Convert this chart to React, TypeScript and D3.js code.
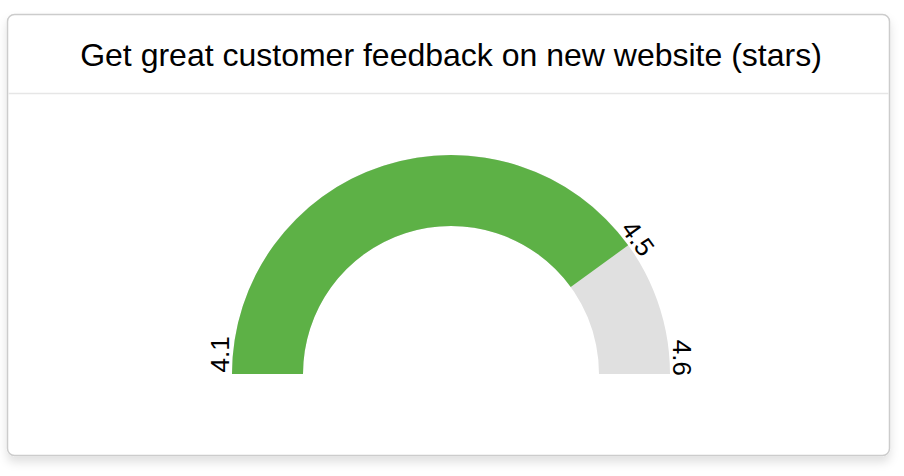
import React, { useEffect, useRef } from "react";
import * as d3 from "d3";

const chartTitle = "Get great customer feedback on new website (stars)";
const gaugeRange = [4.1, 4.6];
const currentValue = [4.5];
const tickLabels = ["4.1", "4.5", "4.6"];

const App: React.FC = () => {
  const svgRef = useRef<SVGSVGElement>(null);

  useEffect(() => {
    if (!svgRef.current) return;
    const svg = d3.select(svgRef.current);
    svg.selectAll("*").remove();

    const W = 904;
    const card = { x: 7.5, y: 14.5, w: 882, h: 441, r: 7 };

    // drop shadow for the card
    const defs = svg.append("defs");
    const filter = defs
      .append("filter")
      .attr("id", "shadow")
      .attr("x", "-10%")
      .attr("y", "-10%")
      .attr("width", "120%")
      .attr("height", "130%");
    filter
      .append("feDropShadow")
      .attr("dx", 0)
      .attr("dy", 6)
      .attr("stdDeviation", 5)
      .attr("flood-color", "#000")
      .attr("flood-opacity", 0.12);

    svg
      .append("rect")
      .attr("x", card.x)
      .attr("y", card.y)
      .attr("width", card.w)
      .attr("height", card.h)
      .attr("rx", card.r)
      .attr("fill", "#fff")
      .attr("stroke", "#cccccc")
      .attr("stroke-width", 1.5)
      .attr("filter", "url(#shadow)");

    // title + separator
    svg
      .append("text")
      .attr("x", W / 2 - 1)
      .attr("y", 66)
      .attr("text-anchor", "middle")
      .style("font-family", "Liberation Sans, Arial, sans-serif")
      .style("font-size", "32px")
      .attr("fill", "#000")
      .text(chartTitle);

    svg
      .append("line")
      .attr("x1", card.x + 1)
      .attr("x2", card.x + card.w - 1)
      .attr("y1", 93.5)
      .attr("y2", 93.5)
      .attr("stroke", "#e6e6e6")
      .attr("stroke-width", 1.5);

    // gauge
    const cx = 451;
    const cy = 374;
    const outer = 219;
    const inner = 148;

    const angle = d3
      .scaleLinear()
      .domain(gaugeRange)
      .range([-Math.PI / 2, Math.PI / 2]);

    const arc = d3
      .arc<{ a0: number; a1: number }>()
      .innerRadius(inner)
      .outerRadius(outer)
      .startAngle((d) => d.a0)
      .endAngle((d) => d.a1);

    const g = svg.append("g").attr("transform", `translate(${cx},${cy})`);

    g.append("path")
      .attr("d", arc({ a0: angle(gaugeRange[0]), a1: angle(gaugeRange[1]) }))
      .attr("fill", "#e0e0e0");

    g.append("path")
      .attr("d", arc({ a0: angle(gaugeRange[0]), a1: angle(currentValue[0]) }))
      .attr("fill", "#5db146");

    // labels along the outer edge
    const labelValues = [gaugeRange[0], currentValue[0], gaugeRange[1]];
    const anchors = ["start", "middle", "end"];
    const yShift = [-1.5, 0, 2];
    labelValues.forEach((v, i) => {
      const a = angle(v);
      const deg = (a * 180) / Math.PI;
      const r = outer + 3;
      const px = Math.sin(a) * r;
      const py = -Math.cos(a) * r + yShift[i];
      g.append("text")
        .attr("transform", `translate(${px},${py}) rotate(${deg})`)
        .attr("text-anchor", anchors[i])
        .style("font-family", "Liberation Sans, Arial, sans-serif")
        .style("font-size", "26px")
        .attr("fill", "#000")
        .text(tickLabels[i]);
    });
  }, []);

  return (
    <svg
      ref={svgRef}
      width={904}
      height={476}
      style={{ position: "absolute", left: 0, top: 0 }}
    />
  );
};

export default App;
